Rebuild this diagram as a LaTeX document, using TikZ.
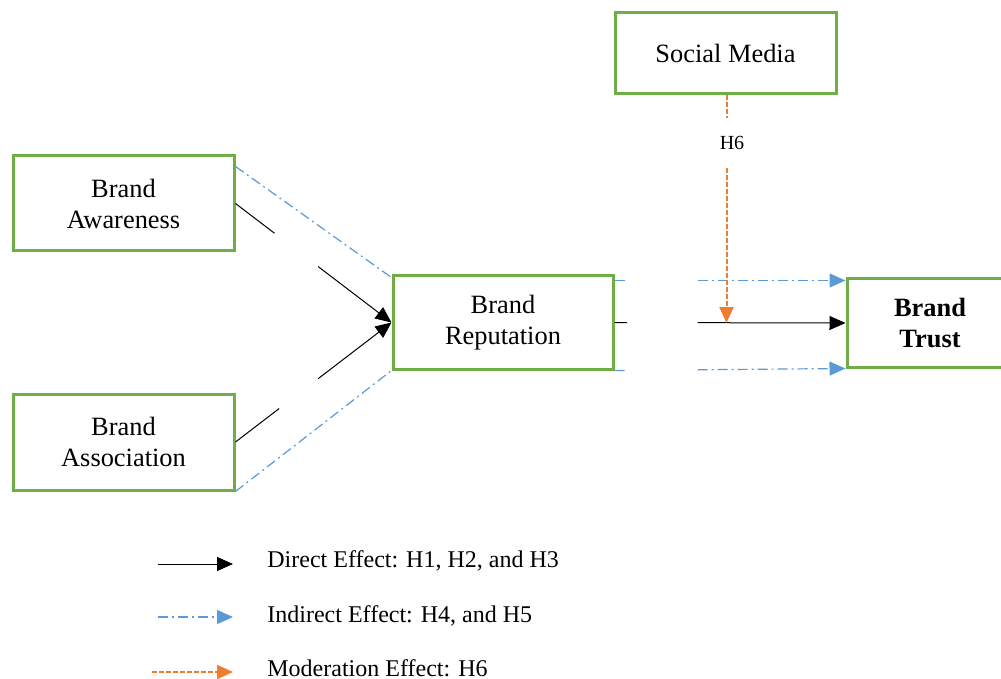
\documentclass[tikz,border=0pt]{standalone}
\usepackage{fontspec}
\setmainfont{Liberation Serif}
\usetikzlibrary{arrows.meta,calc}

\definecolor{boxgreen}{HTML}{70AD47}
\definecolor{indblue}{HTML}{5B9BD5}
\definecolor{modorange}{HTML}{ED7D31}

\begin{document}
\begin{tikzpicture}[x=0.5pt,y=-0.5pt,
	box/.style={draw=boxgreen,line width=1.5pt,fill=white,align=center,inner sep=0pt,
		font=\fontsize{13.2}{15.5}\selectfont},
	direct/.style={black,line width=0.5pt},
	indirect/.style={indblue,line width=0.6pt,dash pattern=on 5pt off 2pt on 1pt off 2pt},
	moder/.style={modorange,line width=1pt,dash pattern=on 2.5pt off 1pt},
	tip/.style={-{Triangle[length=8pt,width=7pt]}},
	legend/.style={anchor=west,inner sep=0pt,font=\fontsize{12}{14}\selectfont}]
	\useasboundingbox (0,0) rectangle (1001,679);
	% boxes
	\node (sm) [box,minimum width=110.5pt,minimum height=40.5pt] at (725.5,53.5) {Social Media};
	\node (aw) [box,minimum width=110.5pt,minimum height=47.5pt] at (123.5,203.5) {Brand\\Awareness};
	\node (as) [box,minimum width=110.5pt,minimum height=48pt] at (123.5,442) {Brand\\Association};
	\node (rep) [box,minimum width=110pt,minimum height=46.5pt] at (503,322.5) {Brand\\Reputation};
	\node (trust) [box,minimum width=83pt,minimum height=44pt] at (930,323) {\textbf{Brand}\\\textbf{Trust}};
	% gaps in the connectors
	\path (aw.east) -- (rep.west) coordinate[pos=0.25] (awa) coordinate[pos=0.53] (awb);
	\path (as.east) -- (rep.west) coordinate[pos=0.28] (asa) coordinate[pos=0.53] (asb);
	\path (rep.east) -- (trust.west) coordinate[pos=0.055] (rta) coordinate[pos=0.36] (rtb);
	\path ($(rep.north east)+(0,6)$) -- ($(trust.north west)+(0,3)$)
		coordinate[pos=0] (upa) coordinate[pos=0.055] (upb) coordinate[pos=0.36] (upc) coordinate[pos=1] (upd);
	\path (rep.south east) -- (trust.south west)
		coordinate[pos=0.05] (loa) coordinate[pos=0.36] (lob);
	\coordinate (mod) at (726.5,323);
	% direct effects
	\draw[direct] (aw.east) -- (awa);
	\draw[direct,tip] (awb) -- (rep.west);
	\draw[direct] (as.east) -- (asa);
	\draw[direct,tip] (asb) -- (rep.west);
	\draw[direct] (rep.east) -- (rta);
	\draw[direct,tip] (rtb) -- (trust.west);
	% indirect effects
	\draw[indirect] ($(aw.north east)+(0,12)$) -- ($(rep.north west)+(0,3)$);
	\draw[indirect] (as.south east) -- (rep.south west);
	\draw[indirect] (upa) -- (upb);
	\draw[indirect,tip] (upc) -- (upd);
	\draw[indirect] (rep.south east) -- (loa);
	\draw[indirect,tip] (lob) -- (trust.south west);
	% moderation
	\node (h6) [inner sep=0pt,minimum height=25pt,font=\fontsize{10}{12}\selectfont] at (732,143) {H6};
	\draw[moder] (mod |- sm.south) -- (mod |- h6.north);
	\draw[moder,tip] (mod |- h6.south) -- (mod);
	% legend
	\node (ld) [legend] at (267,561) {Direct Effect: H1, H2, and H3};
	\node (li) [legend] at (267,616) {Indirect Effect: H4, and H5};
	\node (lm) [legend] at (267,668) {Moderation Effect: H6};
	\coordinate (lda) at (158,564);
	\coordinate (ldb) at (233,564);
	\coordinate (lia) at (158,617);
	\coordinate (lib) at (233,617);
	\coordinate (lma) at (152,672);
	\coordinate (lmb) at (233,672);
	\draw[direct,tip] (lda) -- (ldb);
	\draw[indirect,tip] (lia) -- (lib);
	\draw[moder,tip] (lma) -- (lmb);
\end{tikzpicture}
\end{document}
